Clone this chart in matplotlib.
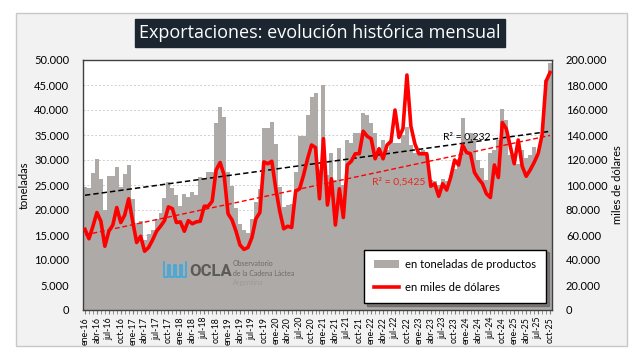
import matplotlib
matplotlib.use("Agg")
import matplotlib.pyplot as plt
import numpy as np
from matplotlib.ticker import FuncFormatter, MultipleLocator
from matplotlib.patches import Rectangle
from matplotlib.lines import Line2D

plt.rcParams['font.family'] = ['Lato', 'DejaVu Sans']

# ---------------- data ----------------
years = list(range(16, 26))
month_abbr = ["ene", "feb", "mar", "abr", "may", "jun", "jul", "ago", "sep", "oct", "nov", "dic"]
months = [f"{m}-{y}" for y in years for m in month_abbr][:118]   # ene-16 .. oct-25

toneladas = [24700, 24500, 27500, 30200, 26300, 20000, 26800, 26800, 28700, 24700,
             27200, 29000, 22300, 17500, 17800, 14000, 15300, 16000, 18300, 19500,
             22500, 25600, 24500, 23000, 20800, 23200, 22600, 23600, 23000, 26600,
             26500, 27700, 27700, 37400, 40700, 38700, 27700, 24800, 20500, 17300,
             16000, 15500, 18300, 21700, 24300, 36500, 36500, 37700, 33300, 24700,
             20700, 21000, 21300, 27700, 34800, 34800, 39000, 42700, 43500, 28000,
             45000, 27000, 31500, 26000, 32500, 25000, 34000, 33500, 35500, 35500,
             39500, 39000, 37500, 35500, 32500, 34000, 32000, 34000, 33500, 33500,
             35000, 36700, 33000, 31500, 31000, 32000, 31000, 26000, 25800, 25000,
             26300, 25800, 27000, 28300, 30300, 38500, 34000, 35500, 35000, 30000,
             28500, 26000, 31500, 32000, 34000, 40300, 38000, 31000, 30500, 29300,
             32000, 30500, 31000, 32700, 31000, 35000, 46000, 49500]

miles_usd = [64500, 57000, 67000, 78000, 71000, 51000, 63000, 68000, 82000, 70000,
             76000, 89000, 71000, 54000, 59000, 47000, 50000, 56000, 63000, 67000,
             71500, 82500, 81000, 70000, 70500, 63000, 71500, 69000, 70500, 71000,
             83000, 83000, 87000, 112000, 118000, 108000, 77000, 72000, 63000, 52000,
             48500, 50000, 58000, 73000, 78000, 118500, 117000, 119000, 97000, 79000,
             65000, 67000, 66000, 95000, 97000, 108000, 121000, 132000, 130000, 89000,
             137000, 84000, 105000, 68000, 97000, 74000, 116000, 119000, 125000, 125000,
             143000, 139000, 137000, 121000, 129000, 121000, 132000, 135000, 160000, 138000,
             145000, 188000, 147000, 133000, 125000, 125000, 125000, 99000, 101000, 91000,
             101000, 96000, 106000, 120000, 116000, 132000, 126000, 125000, 110000, 105000,
             101000, 93000, 90000, 116000, 106000, 150000, 145000, 131000, 117000, 136000,
             115000, 107000, 112000, 118000, 125000, 140000, 183000, 190000]

r2_ton_label = "R² = 0,232"
r2_usd_label = "R² = 0,5425"

# ---------------- figure ----------------
W, H = 643, 360
fig = plt.figure(figsize=(W / 100, H / 100), dpi=100)
fig.patch.set_facecolor('white')

def fx(px):
    return px / W

def fy(py):
    return 1 - py / H

fig.patches.append(Rectangle((fx(16), fy(346)), fx(627) - fx(16), fy(13) - fy(346),
                             transform=fig.transFigure, facecolor='#f2f2f2',
                             edgecolor='#c8c8c8', lw=1.0, zorder=-5))

# title box
fig.text(fx(320), fy(33), "Exportaciones: evolución histórica mensual", ha='center', va='center',
         color='white', fontsize=13, family=['Open Sans', 'DejaVu Sans'],
         bbox=dict(boxstyle='square,pad=0.25', facecolor='#1c2631', edgecolor='#1c2631'))

x = np.arange(len(months))
ax1 = fig.add_axes([fx(83), fy(310), fx(552) - fx(83), fy(60) - fy(310)])
ax1.set_zorder(1)
ax1.set_facecolor('white')
ax1.bar(x, toneladas, width=1.0, color='#aeaaa8', edgecolor='none', zorder=2,
        label='en toneladas de productos')

# trend tons
c1 = np.polyfit(x, toneladas, 1)
ax1.plot(x, np.polyval(c1, x), color='black', lw=1.1, ls=(0, (3.5, 2)), zorder=3)

ax1.set_xlim(-0.5, len(months) - 0.5)
ax1.set_ylim(0, 50000)
ax1.yaxis.set_major_locator(MultipleLocator(5000))
fmt = FuncFormatter(lambda v, p: f"{v:,.0f}".replace(",", "."))
ax1.yaxis.set_major_formatter(fmt)
ax1.grid(axis='y', color='#cfcfcf', ls=(0, (2, 2)), lw=0.7, zorder=0)
ax1.set_axisbelow(True)

ax1.set_xticks(x[::3])
ax1.set_xticklabels(months[::3], rotation=90, fontsize=6.3)
ax1.set_xticks(x, minor=True)
ax1.tick_params(axis='x', which='both', length=3, color='#808080', pad=2)
ax1.tick_params(axis='y', labelsize=8, length=0, pad=10)
ax1.set_ylabel("toneladas", fontsize=8, labelpad=3)

for s in ax1.spines.values():
    s.set_color('#404040')
    s.set_linewidth(1.0)

ax2 = ax1.twinx()
ax2.set_zorder(2)
ax2.patch.set_visible(False)
ax2.plot(x, miles_usd, color='#ff0000', lw=2.6, zorder=4, solid_joinstyle='round',
         label='en miles de dólares')
c2 = np.polyfit(x, miles_usd, 1)
ax2.plot(x, np.polyval(c2, x), color='#ff0000', lw=1.0, ls=(0, (3.5, 2)), zorder=3)
ax2.set_ylim(0, 200000)
ax2.yaxis.set_major_locator(MultipleLocator(20000))
ax2.yaxis.set_major_formatter(fmt)
ax2.tick_params(axis='y', labelsize=8, length=0, pad=10)
ax2.set_ylabel("miles de dólares", fontsize=8, labelpad=3)
for s in ax2.spines.values():
    s.set_visible(False)

# R2 labels
ax2.text(90.0, 34500 * 4, r2_ton_label, fontsize=7.5, color='black', ha='left', va='center', zorder=5)
ax2.text(72.3, 25600 * 4, r2_usd_label, fontsize=7.5, color='#e8281e', ha='left', va='center', zorder=5)

# legend
h1, l1 = ax1.get_legend_handles_labels()
h2, l2 = ax2.get_legend_handles_labels()
leg = ax2.legend(h1 + h2, l1 + l2, loc='lower right',
                 fontsize=8.1, frameon=True, fancybox=False, shadow=True,
                 edgecolor='black', borderpad=0.85, labelspacing=1.1, handlelength=2.2,
                 handleheight=0.8, handletextpad=0.6, borderaxespad=0)
leg.set_bbox_to_anchor((fx(546), fy(303)), transform=fig.transFigure)
leg.get_frame().set_linewidth(1.0)
leg.set_zorder(10)

# OCLA logo (drawn on top of the bars)
wave_x = [164, 164, 168, 168, 170, 170, 174, 174, 176, 176, 180, 180, 182, 182, 186, 186]
wave_y = [262, 277, 277, 265, 265, 277, 277, 265, 265, 277, 277, 265, 265, 277, 277, 262]
ax2.add_line(Line2D([fx(v) for v in wave_x], [fy(v) for v in wave_y], transform=fig.transFigure,
                    color='#3aa9dc', lw=1.2, zorder=6, clip_on=False))
ax2.text(fx(189), fy(271), "OCLA", fontsize=12, color='#5b5b5b', ha='left', va='center',
         fontweight='bold', family=['Roboto', 'DejaVu Sans'], zorder=6, transform=fig.transFigure)
ax2.text(fx(233), fy(264), "Observatorio", fontsize=5.0, color='#6b6b6b', ha='left', va='center',
         zorder=6, transform=fig.transFigure)
ax2.text(fx(233), fy(273), "de la Cadena Láctea", fontsize=5.0, color='#6b6b6b', ha='left', va='center',
         zorder=6, transform=fig.transFigure)
ax2.text(fx(233), fy(282), "Argentina", fontsize=5.0, color='#9a9a9a', ha='left', va='center',
         zorder=6, transform=fig.transFigure)

fig.savefig("out.png", dpi=100, facecolor=fig.get_facecolor())
